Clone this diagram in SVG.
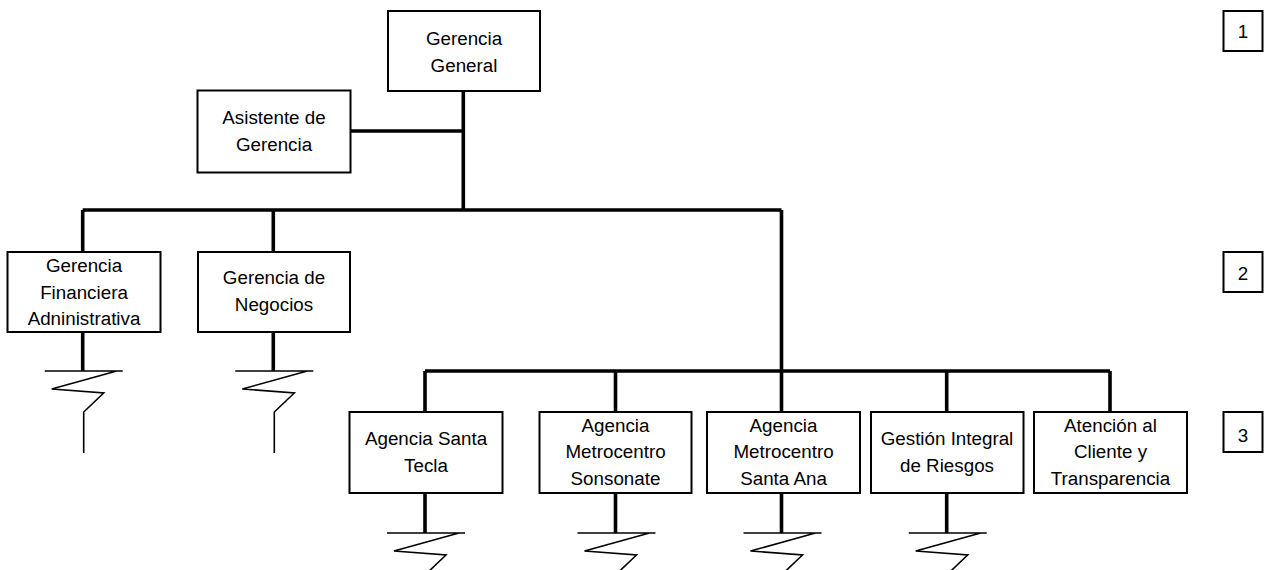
<svg xmlns="http://www.w3.org/2000/svg" width="1270" height="570" viewBox="0 0 1270 570">
<style>
.box{fill:#fff;stroke:#000;stroke-width:2}
.t{font-family:"Liberation Sans",Arial,sans-serif;font-size:18.8px;text-anchor:middle;fill:#000}
.c{fill:none;stroke:#000;stroke-width:3.6}
.z{fill:none;stroke:#000;stroke-width:1.6}
</style>
<defs>
<path id="zig" d="M-38,0 H40 M34,0 L-31,18 L21,22 L1,41 V82"/>
</defs>
<rect width="1270" height="570" fill="#fff"/>
<g id="connectors">
<path class="c" d="M463.3,91 V210 M351,131 H463.3 M82.7,210 H781.5 M82.7,210 V252 M273.3,210 V252 M781.5,210 V371 M425,371 H1110 M425,371 V412 M615.5,371 V412 M781.5,371 V412 M946.7,371 V412 M1110,371 V412"/>
<path class="c" d="M82.7,332 V371 M273.3,332 V371 M425,493 V533 M615.5,493 V533 M781.5,493 V533 M946.7,493 V533"/>
<use href="#zig" class="z" x="82.7" y="371"/>
<use href="#zig" class="z" x="273.3" y="371"/>
<use href="#zig" class="z" x="425" y="533"/>
<use href="#zig" class="z" x="615.5" y="533"/>
<use href="#zig" class="z" x="781.5" y="533"/>
<use href="#zig" class="z" x="946.7" y="533"/>
</g>
<g id="gerencia-general">
<rect class="box" x="388" y="11" width="152" height="80"/>
<text class="t" x="464" y="45">Gerencia</text>
<text class="t" x="464" y="72">General</text>
</g>
<g id="asistente">
<rect class="box" x="197.5" y="90.5" width="153" height="82"/>
<text class="t" x="274" y="124">Asistente de</text>
<text class="t" x="274" y="150.7">Gerencia</text>
</g>
<g id="gerencia-financiera">
<rect class="box" x="7.5" y="252" width="153" height="80"/>
<text class="t" x="84" y="271.7">Gerencia</text>
<text class="t" x="84" y="298.7">Financiera</text>
<text class="t" x="84" y="325">Adninistrativa</text>
</g>
<g id="gerencia-negocios">
<rect class="box" x="198" y="252" width="152" height="80"/>
<text class="t" x="274" y="284">Gerencia de</text>
<text class="t" x="274" y="310.5">Negocios</text>
</g>
<g id="agencia-santa-tecla">
<rect class="box" x="349.5" y="412" width="153" height="81"/>
<text class="t" x="426" y="445">Agencia Santa</text>
<text class="t" x="426" y="471.7">Tecla</text>
</g>
<g id="agencia-sonsonate">
<rect class="box" x="539.5" y="412" width="152" height="81"/>
<text class="t" x="615.5" y="431.5">Agencia</text>
<text class="t" x="615.5" y="458.3">Metrocentro</text>
<text class="t" x="615.5" y="485">Sonsonate</text>
</g>
<g id="agencia-santa-ana">
<rect class="box" x="707" y="412" width="153" height="81"/>
<text class="t" x="783.5" y="431.5">Agencia</text>
<text class="t" x="783.5" y="458.3">Metrocentro</text>
<text class="t" x="783.5" y="485">Santa Ana</text>
</g>
<g id="gestion-riesgos">
<rect class="box" x="871" y="412" width="152.5" height="81"/>
<text class="t" x="947" y="445">Gestión Integral</text>
<text class="t" x="947" y="471.7">de Riesgos</text>
</g>
<g id="atencion-cliente">
<rect class="box" x="1034" y="412" width="153" height="81"/>
<text class="t" x="1110.5" y="431.5">Atención al</text>
<text class="t" x="1110.5" y="458.3">Cliente y</text>
<text class="t" x="1110.5" y="485">Transparencia</text>
</g>
<g id="nivel-1">
<rect class="box" x="1223.5" y="11" width="39" height="40"/>
<text class="t" x="1243" y="37.5">1</text>
</g>
<g id="nivel-2">
<rect class="box" x="1223.5" y="252" width="39" height="40"/>
<text class="t" x="1243" y="280">2</text>
</g>
<g id="nivel-3">
<rect class="box" x="1223.5" y="412" width="39" height="40"/>
<text class="t" x="1243" y="441.5">3</text>
</g>
</svg>
